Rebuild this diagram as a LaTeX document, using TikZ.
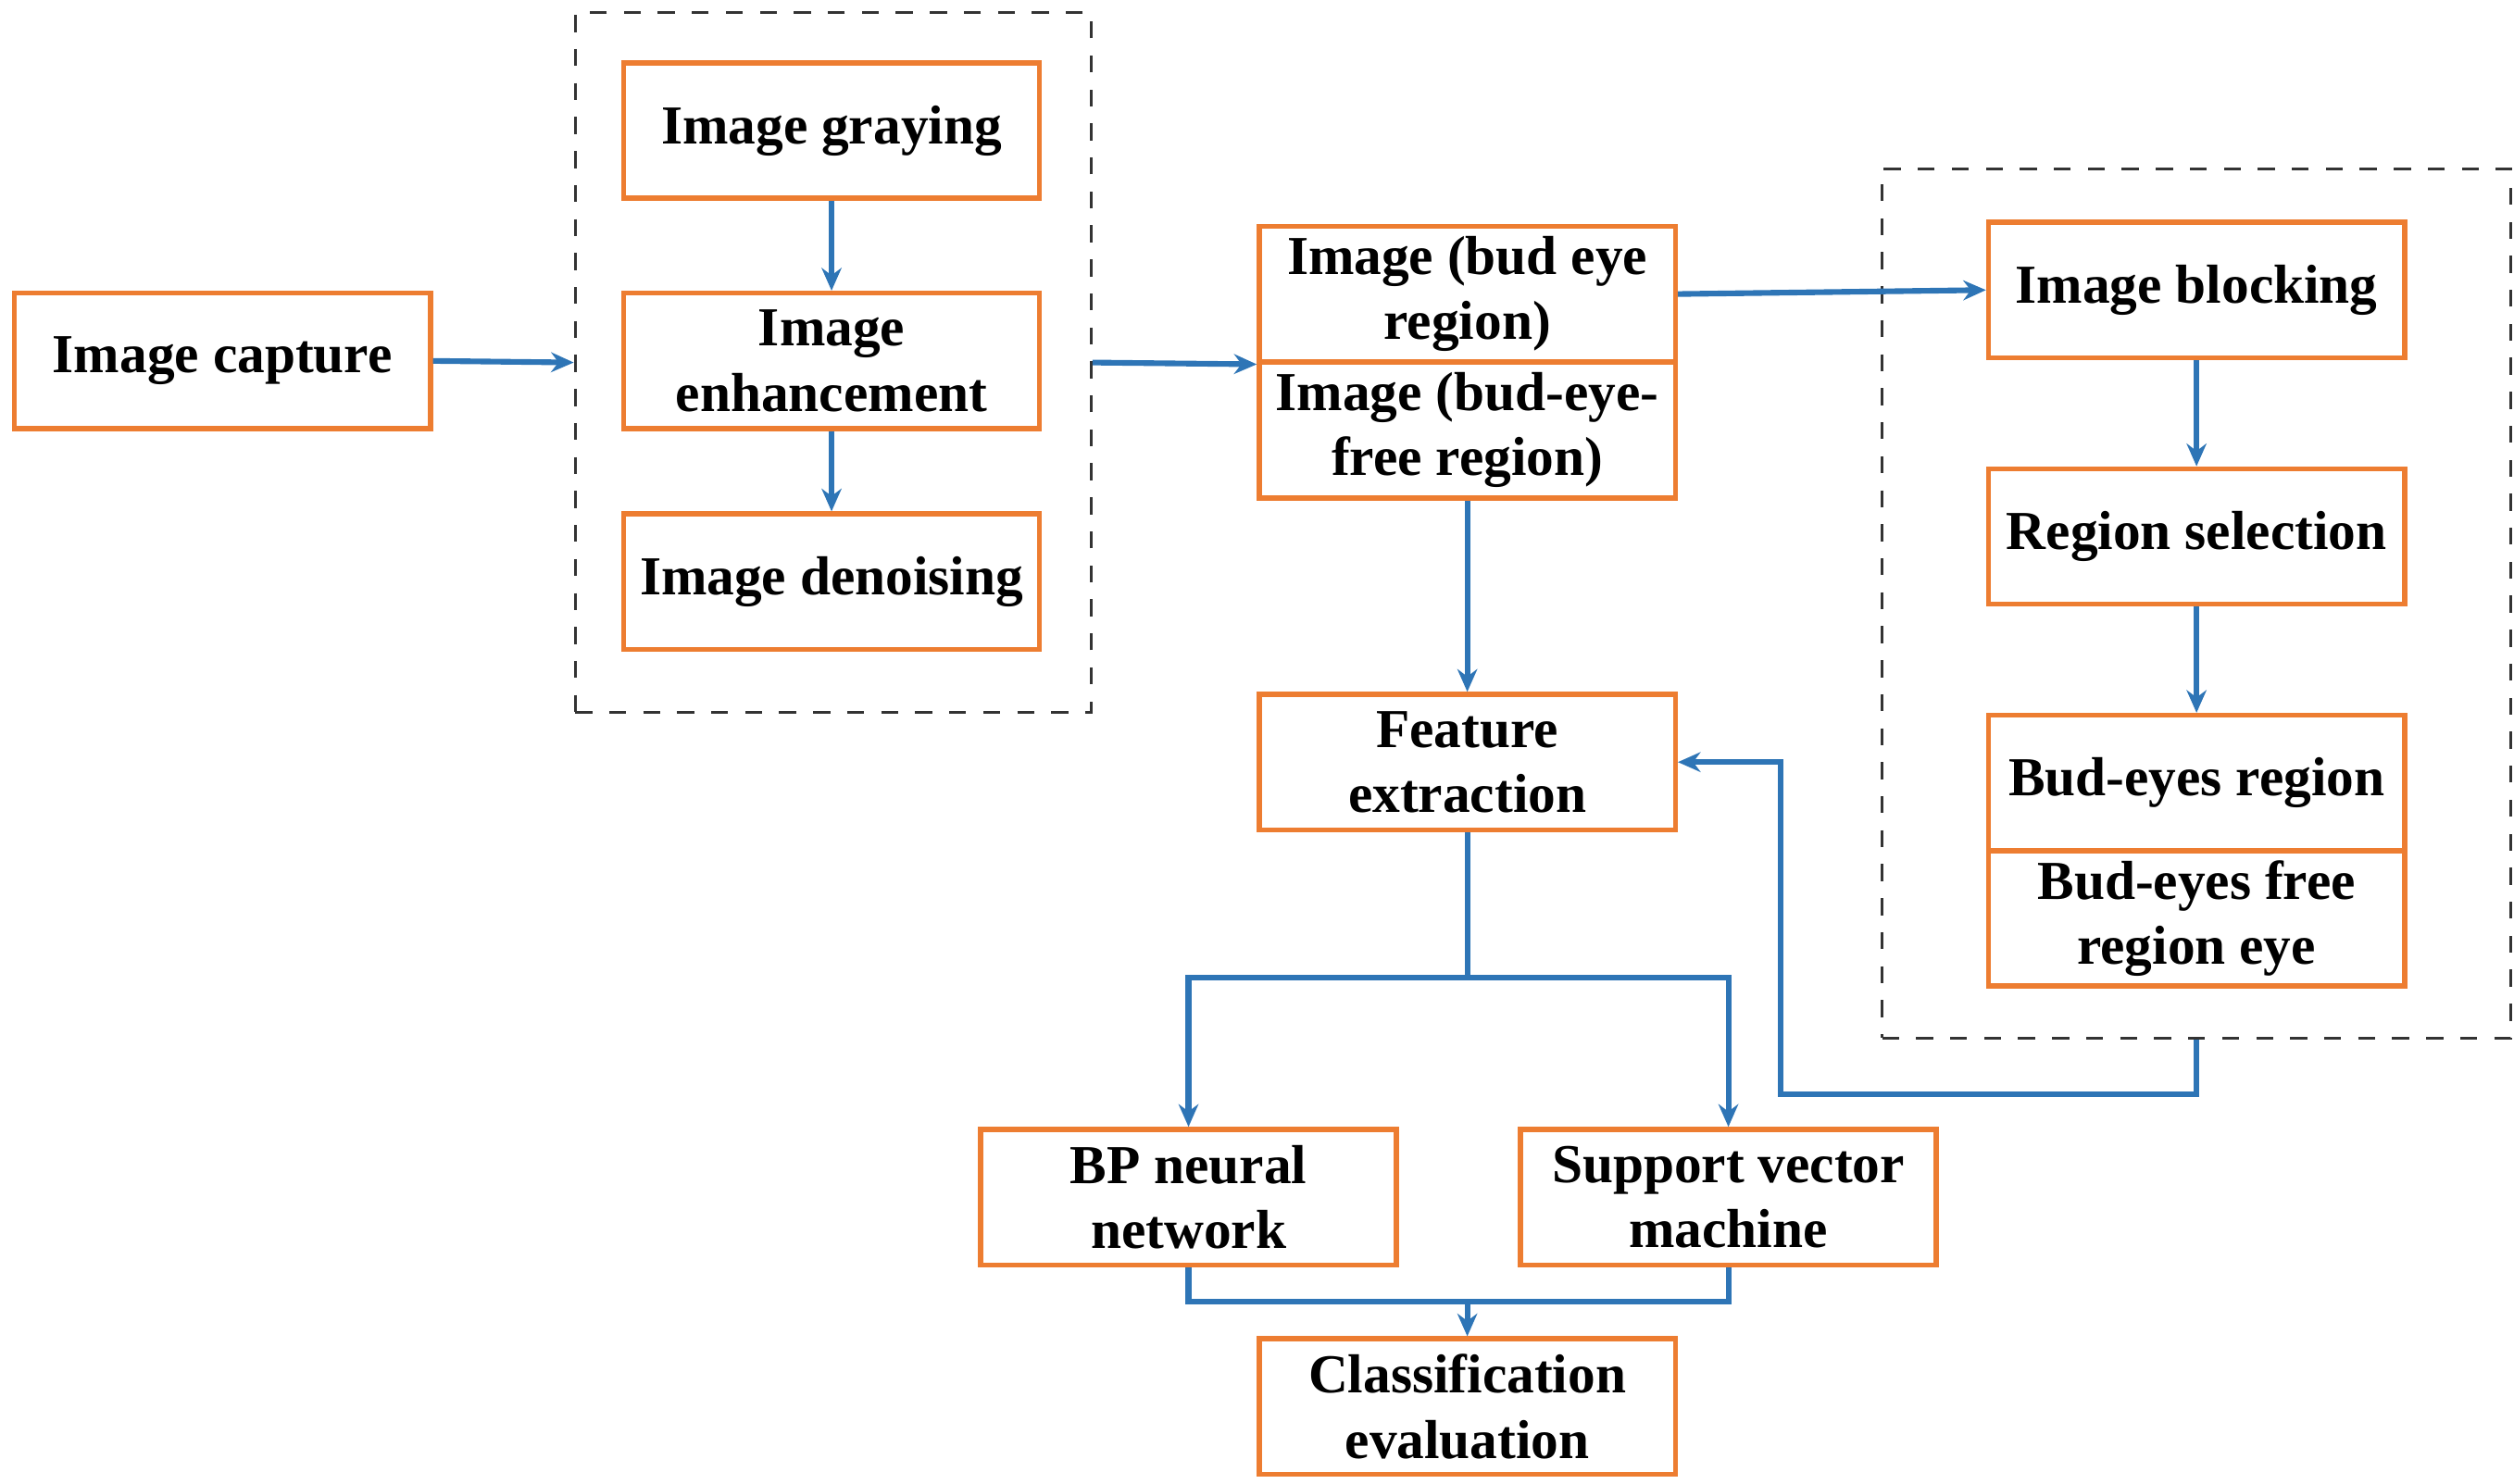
\documentclass[tikz,border=0pt]{standalone}
\usepackage{fontspec}
\setmainfont{Liberation Serif}
\usetikzlibrary{arrows.meta}
\definecolor{bor}{RGB}{237,125,49}
\definecolor{blu}{RGB}{46,117,182}
\begin{document}
\begin{tikzpicture}[x=0.01cm,y=-0.01cm,
 box/.style={draw=bor,line width=0.9pt,minimum width=2.58cm,minimum height=0.84cm,inner sep=1pt,align=center,font=\fontsize{9.7}{11.5}\selectfont\bfseries},
 dbox/.style={draw=black!80,dashed,line width=0.5pt,inner sep=0pt},
 arr/.style={draw=blu,line width=1pt,-{Stealth[length=4pt,width=3.5pt]}},
 ln/.style={draw=blu,line width=1pt}]
\useasboundingbox (0,0) rectangle (1560,921);
\node[dbox,minimum width=3.2cm,minimum height=4.34cm] (d1) at (517,225) {};
\node[dbox,minimum width=3.9cm,minimum height=5.39cm] (d2) at (1363,374.5) {};
\node[box] (cap) at (138,224) {Image capture};
\node[box] (gray) at (516,81) {Image graying};
\node[box] (enh) at (516,224) {Image\\enhancement};
\node[box] (den) at (516,361) {Image denoising};
\node[box] (b1) at (910.5,182.5) {Image (bud eye\\region)};
\node[box] (b2) at (910.5,267) {Image (bud-eye-\\free region)};
\node[box] (feat) at (910.5,473) {Feature\\extraction};
\node[box] (blk) at (1363,180) {Image blocking};
\node[box] (reg) at (1363,333) {Region selection};
\node[box] (e1) at (1363,486) {Bud-eyes region};
\node[box] (e2) at (1363,570) {Bud-eyes free\\region eye};
\node[box] (bp) at (737.5,743) {BP neural\\network};
\node[box] (svm) at (1072.5,743) {Support vector\\machine};
\node[box] (cls) at (910.5,873) {Classification\\evaluation};
\coordinate (s1) at (910.5,607);
\coordinate (j1) at (910.5,808);
\draw[arr] (cap.east) -- (d1.west);
\draw[arr] (gray) -- (enh);
\draw[arr] (enh) -- (den);
\draw[arr] (d1.east) -- (b1.south west);
\draw[arr] (b1.east) -- (blk.west);
\draw[arr] (b2) -- (feat);
\draw[arr] (blk) -- (reg);
\draw[arr] (reg) -- (e1);
\draw[arr] (d2.south) |- (1105,679) |- (feat.east);
\draw[ln] (feat.south) -- (s1);
\draw[arr] (s1) -| (bp.north);
\draw[arr] (s1) -| (svm.north);
\draw[ln] (bp.south) |- (j1) -| (svm.south);
\draw[arr] (j1) -- (cls.north);
\end{tikzpicture}
\end{document}
